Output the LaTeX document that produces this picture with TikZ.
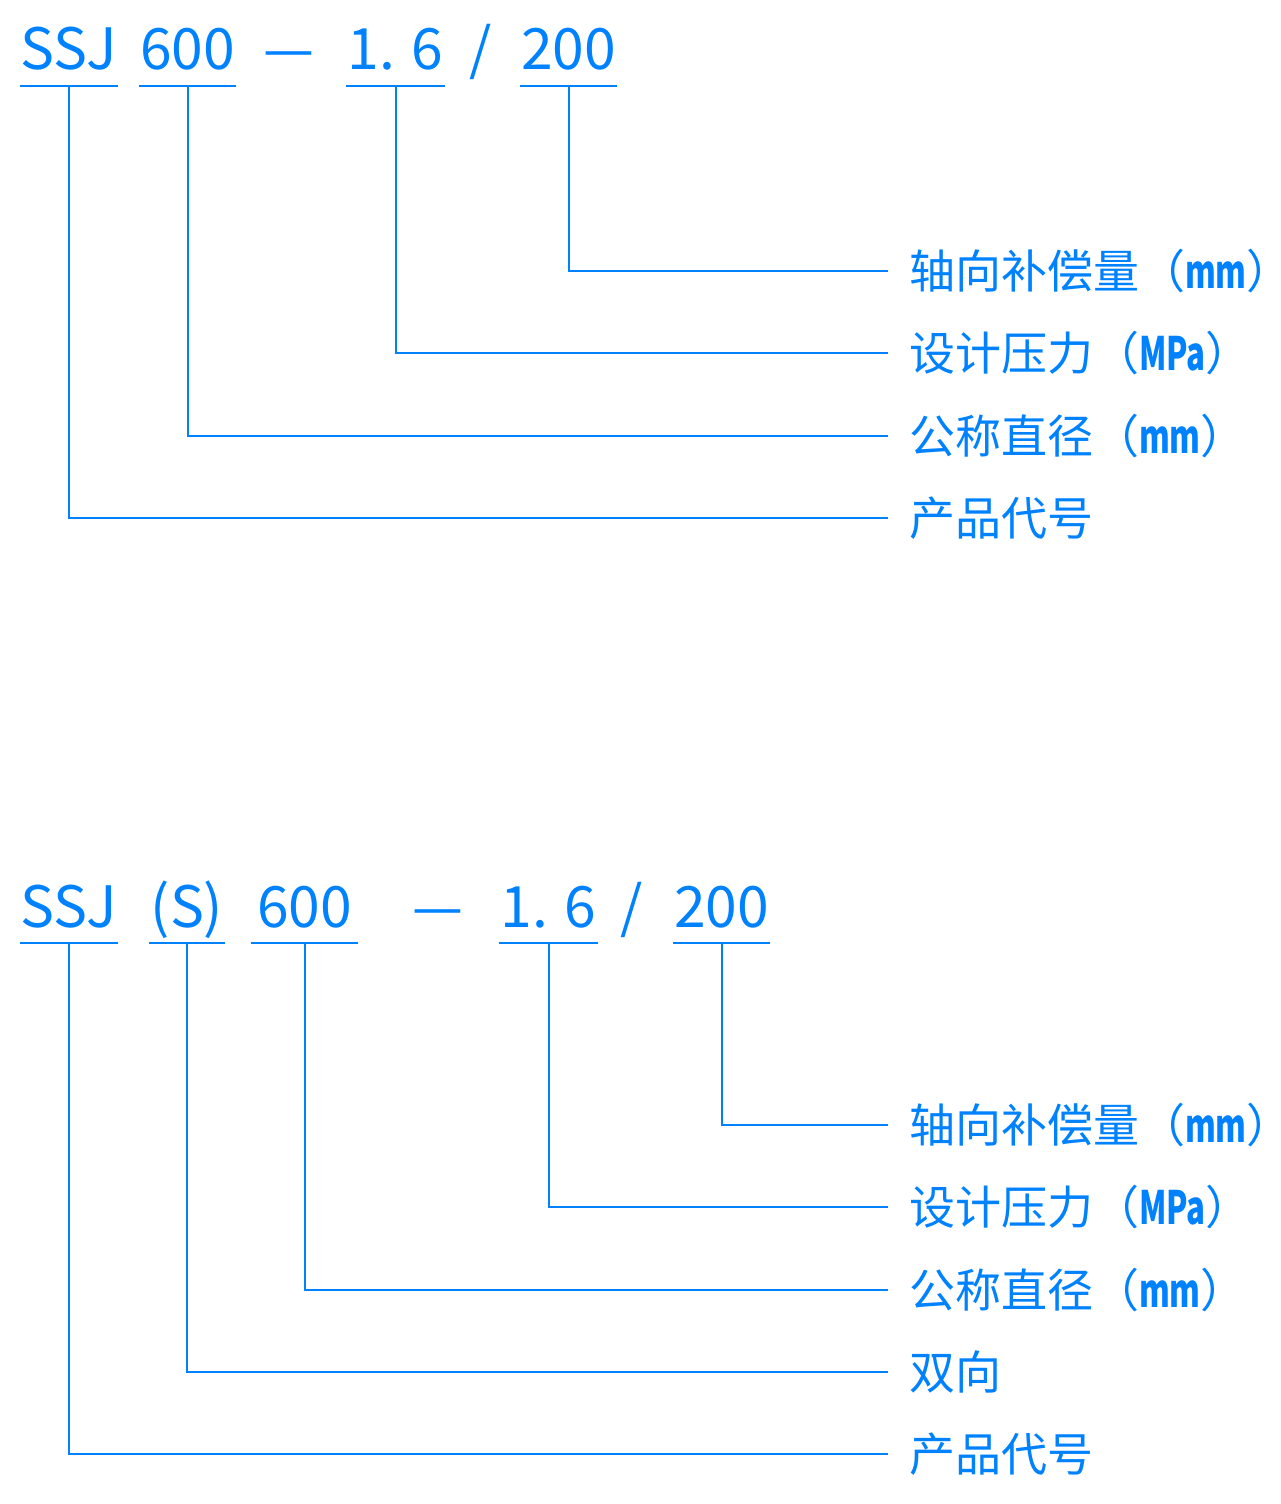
\documentclass[tikz,border=0pt]{standalone}
\usepackage{fontspec}
\setmainfont{Noto Sans CJK SC}
\newfontfamily\unitfont[FakeStretch=0.68]{Noto Sans CJK SC}
\newcommand{\unit}[1]{{\unitfont\bfseries #1}}
\definecolor{codeblue}{RGB}{0,130,255}
\tikzset{
  part/.style={font=\fontsize{28.5}{30}\selectfont, inner sep=0pt, anchor=base,
    text height=21pt, text depth=7.5pt},
  sign/.style={font=\fontsize{28.5}{30}\selectfont, inner sep=0pt, anchor=base},
  item/.style={font=\fontsize{23}{25}\selectfont, anchor=west, inner xsep=10pt,
    inner ysep=0pt, text height=19pt, text depth=1.6pt},
}
\begin{document}
\begin{tikzpicture}[x=0.5pt,y=-0.5pt,color=codeblue,line width=1pt]
	\useasboundingbox (0,0) rectangle (1280,1504);
	
	% single
	\node[part,minimum width=47pt] (ssjA) at (69,70) {SSJ};
	\node[part,minimum width=47.5pt] (dnA) at (187.5,70) {600};
	\node[sign] (dashA) at (289,70) {—};
	\node[part,minimum width=47.5pt] (pnA) at (395.5,70) {1. 6};
	\node[sign] (slashA) at (481,70) {/};
	\node[part,minimum width=47.5pt] (strA) at (568.5,70) {200};
	
	\node[item] (strLblA) at (888,271) {轴向补偿量（\unit{mm}）};
	\node[item] (pnLblA) at (888,353) {设计压力（\unit{MPa}）};
	\node[item] (dnLblA) at (888,436) {公称直径（\unit{mm}）};
	\node[item] (ssjLblA) at (888,518) {产品代号};
	
	\foreach \n in {ssjA,dnA,pnA,strA}
		\draw (\n.south west) -- (\n.south east);
	\draw (strA.south) |- (strLblA.west);
	\draw (pnA.south) |- (pnLblA.west);
	\draw (dnA.south) |- (dnLblA.west);
	\draw (ssjA.south) |- (ssjLblA.west);
	
	% double
	\node[part,minimum width=47pt] (ssjB) at (69,927) {SSJ};
	\node[part,minimum width=37pt] (dirB) at (187,927) {(S)};
	\node[part,minimum width=52.5pt] (dnB) at (304.5,927) {600};
	\node[sign] (dashB) at (437.5,927) {—};
	\node[part,minimum width=47.5pt] (pnB) at (548.5,927) {1. 6};
	\node[sign] (slashB) at (632,927) {/};
	\node[part,minimum width=47.5pt] (strB) at (721.5,927) {200};
	
	\node[item] (strLblB) at (888,1125) {轴向补偿量（\unit{mm}）};
	\node[item] (pnLblB) at (888,1207) {设计压力（\unit{MPa}）};
	\node[item] (dnLblB) at (888,1290) {公称直径（\unit{mm}）};
	\node[item] (dirLblB) at (888,1372) {双向};
	\node[item] (ssjLblB) at (888,1454) {产品代号};
	
	\foreach \n in {ssjB,dirB,dnB,pnB,strB}
		\draw (\n.south west) -- (\n.south east);
	\draw (strB.south) |- (strLblB.west);
	\draw (pnB.south) |- (pnLblB.west);
	\draw (dnB.south) |- (dnLblB.west);
	\draw (dirB.south) |- (dirLblB.west);
	\draw (ssjB.south) |- (ssjLblB.west);
\end{tikzpicture}
\end{document}
